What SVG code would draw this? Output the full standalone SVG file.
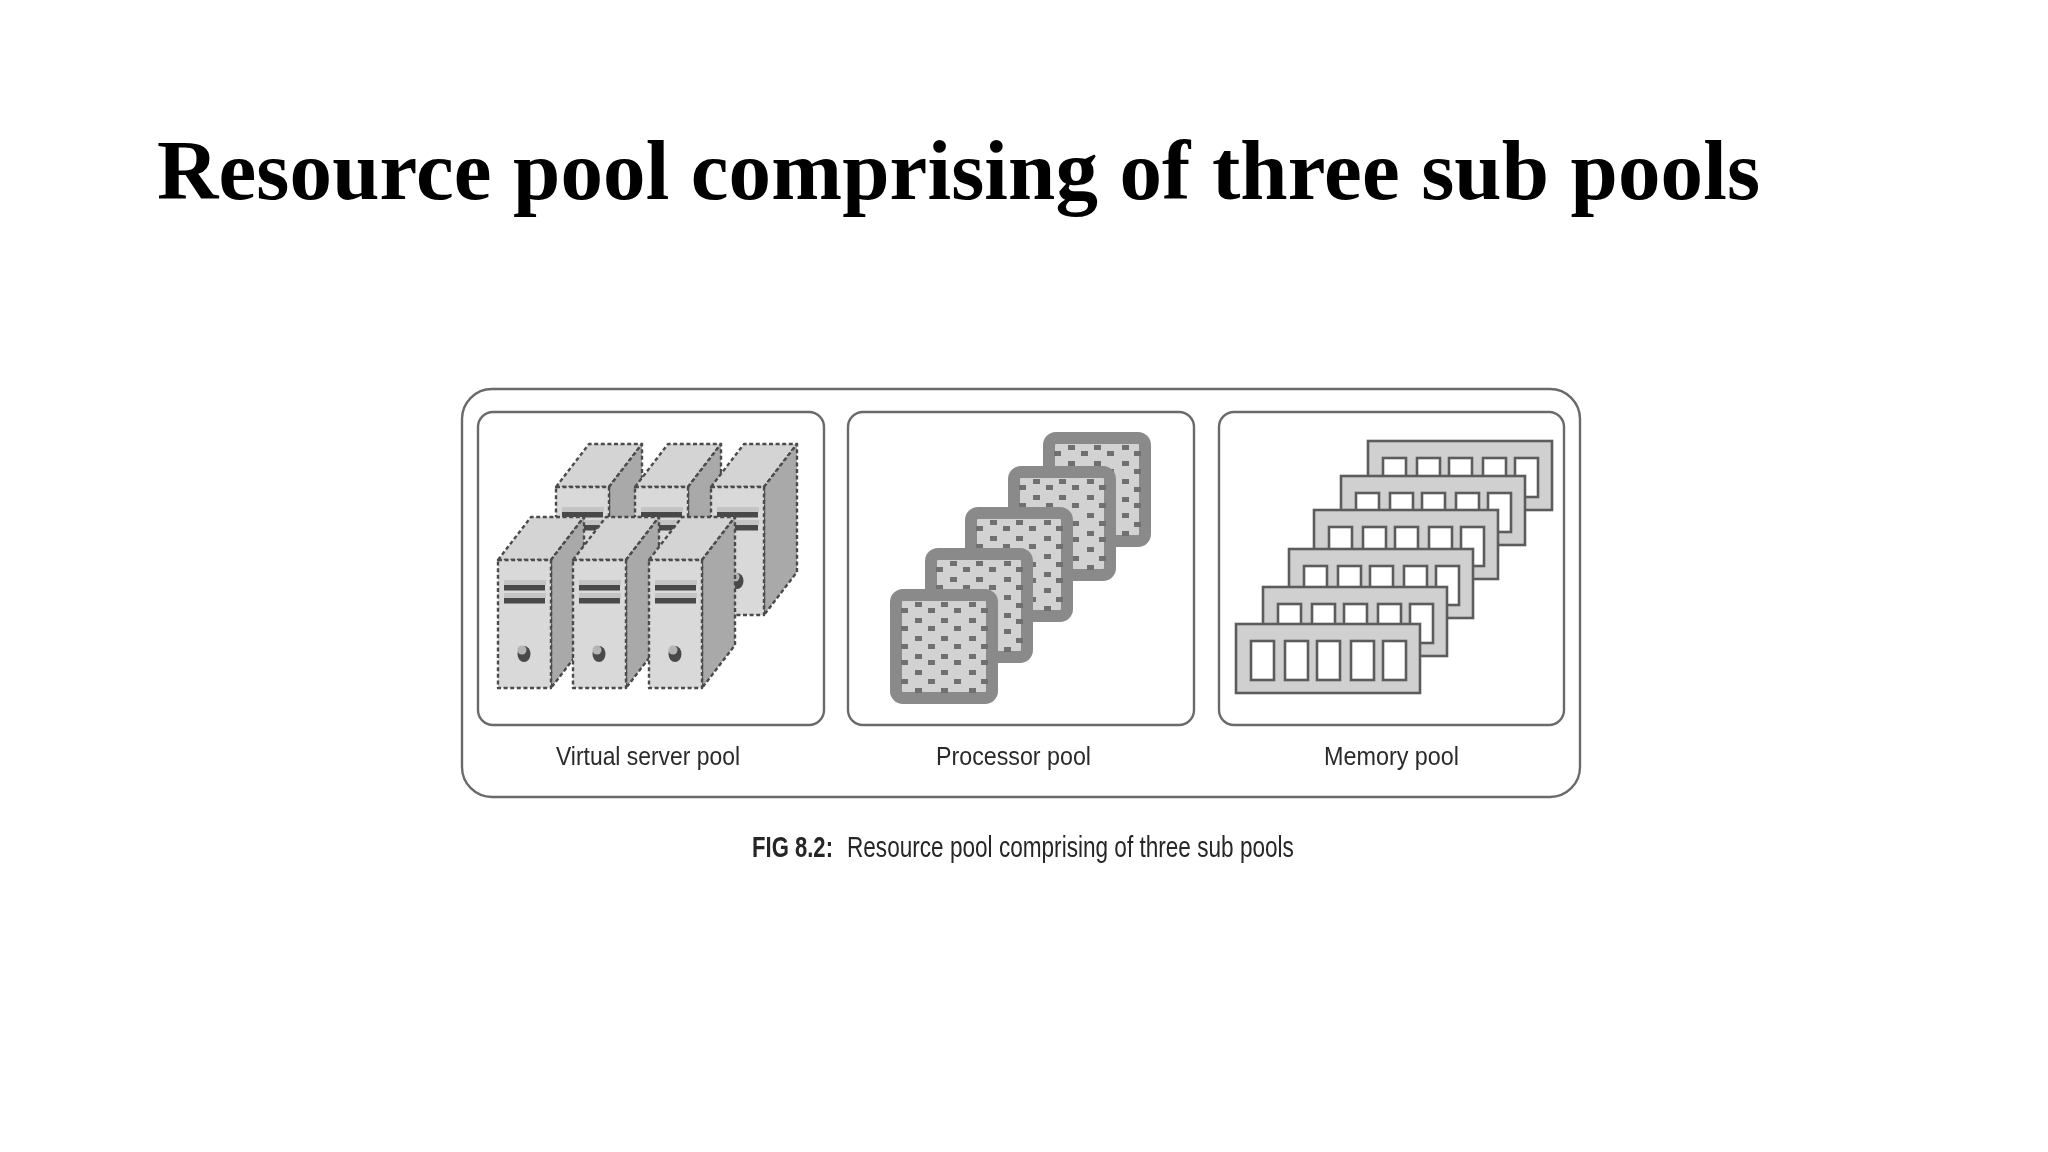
<svg xmlns="http://www.w3.org/2000/svg" xmlns:xlink="http://www.w3.org/1999/xlink" width="2048" height="1152" viewBox="0 0 2048 1152">
<style>
.frame{fill:#fff;stroke:#6a6a6a;stroke-width:2.4}
.lbl{font-family:"Liberation Sans",Arial,sans-serif;font-size:26px;fill:#2a2a2a}
.cap{font-family:"Liberation Sans",Arial,sans-serif;font-size:29px;fill:#262626}
.title{font-family:"Liberation Serif","Times New Roman",serif;font-weight:700;font-size:85px;fill:#000}
.d{stroke:#4c4c4c;stroke-width:2.4;stroke-dasharray:4 2.6;stroke-linejoin:round}
.bar{fill:#484848}.barl{fill:#c4c4c4}
.dot{fill:#6f6f6f}
.chip{fill:#d2d2d2;stroke:#8a8a8a;stroke-width:12;stroke-linejoin:round}
.mem{fill:#d0d0d0;stroke:#5c5c5c;stroke-width:2.6}
.slot{fill:#fff;stroke:#5c5c5c;stroke-width:2.6}
</style>
<defs>
<filter id="soft" x="-2%" y="-2%" width="104%" height="104%"><feGaussianBlur stdDeviation="0.6"/></filter>
<g id="server">
<path class="d" d="M0 0L33 -43H86L53 0Z" fill="#d4d4d4"/>
<path class="d" d="M53 0L86 -43V85L53 128Z" fill="#a9a9a9"/>
<rect class="d" x="0" y="0" width="53" height="128" fill="#d9d9d9"/>
<rect class="barl" x="6" y="20" width="42" height="5"/>
<rect class="bar" x="6" y="25" width="41" height="5.5"/>
<rect class="barl" x="6" y="33" width="42" height="5"/>
<rect class="bar" x="6" y="38" width="41" height="5.5"/>
<ellipse cx="26" cy="94" rx="6.5" ry="8" fill="#4a4a4a"/>
<ellipse cx="24" cy="90" rx="4.5" ry="4.5" fill="#b5b5b5"/>
</g>
<g id="chip">
<rect class="chip" x="6" y="6" width="96" height="103" rx="7"/>
<g class="dot" transform="translate(12,13)">
<path d="M13 0h7v5h-7zM39 0h7v5h-7zM67 0h7v5h-7zM13 16h7v5h-7zM39 16h7v5h-7zM67 16h7v5h-7zM13 34h7v5h-7zM39 34h7v5h-7zM67 34h7v5h-7zM13 52h7v5h-7zM39 52h7v5h-7zM67 52h7v5h-7zM13 68h7v5h-7zM39 68h7v5h-7zM67 68h7v5h-7zM13 86h7v5h-7zM39 86h7v5h-7zM67 86h7v5h-7z"/>
<path d="M-1 6h7v5h-7zM26 6h7v5h-7zM52 6h7v5h-7zM79 6h7v5h-7zM-1 24h7v5h-7zM26 24h7v5h-7zM52 24h7v5h-7zM79 24h7v5h-7zM-1 42h7v5h-7zM26 42h7v5h-7zM52 42h7v5h-7zM79 42h7v5h-7zM-1 58h7v5h-7zM26 58h7v5h-7zM52 58h7v5h-7zM79 58h7v5h-7zM-1 77h7v5h-7zM26 77h7v5h-7zM52 77h7v5h-7zM79 77h7v5h-7z"/>
</g>
</g>
<g id="stick">
<rect class="mem" x="0" y="0" width="184" height="69"/>
<rect class="slot" x="15" y="17" width="23" height="39"/>
<rect class="slot" x="49" y="17" width="23" height="39"/>
<rect class="slot" x="81" y="17" width="23" height="39"/>
<rect class="slot" x="115" y="17" width="23" height="39"/>
<rect class="slot" x="147" y="17" width="23" height="39"/>
</g>
</defs>
<rect width="2048" height="1152" fill="#fff"/>
<text class="title" id="title" x="157" y="199" textLength="1603" lengthAdjust="spacing">Resource pool comprising of three sub pools</text>
<g id="figure" filter="url(#soft)">
<rect id="resource-pool" class="frame" x="462" y="389" width="1118" height="408" rx="30"/>
<g id="virtual-server-pool">
<rect class="frame" x="478" y="412" width="346" height="313" rx="15"/>
<use xlink:href="#server" href="#server" x="556" y="487"/>
<use xlink:href="#server" href="#server" x="635" y="487"/>
<use xlink:href="#server" href="#server" x="711" y="487"/>
<use xlink:href="#server" href="#server" x="498" y="560"/>
<use xlink:href="#server" href="#server" x="573" y="560"/>
<use xlink:href="#server" href="#server" x="649" y="560"/>
<text class="lbl" x="556" y="765" textLength="184" lengthAdjust="spacingAndGlyphs">Virtual server pool</text>
</g>
<g id="processor-pool">
<rect class="frame" x="848" y="412" width="346" height="313" rx="15"/>
<use xlink:href="#chip" href="#chip" x="1043" y="432"/>
<use xlink:href="#chip" href="#chip" x="1008" y="466"/>
<use xlink:href="#chip" href="#chip" x="965" y="507"/>
<use xlink:href="#chip" href="#chip" x="925" y="548"/>
<use xlink:href="#chip" href="#chip" x="890" y="589"/>
<text class="lbl" x="936" y="765" textLength="155" lengthAdjust="spacingAndGlyphs">Processor pool</text>
</g>
<g id="memory-pool">
<rect class="frame" x="1219" y="412" width="345" height="313" rx="15"/>
<use xlink:href="#stick" href="#stick" x="1368" y="441"/>
<use xlink:href="#stick" href="#stick" x="1341" y="476"/>
<use xlink:href="#stick" href="#stick" x="1314" y="510"/>
<use xlink:href="#stick" href="#stick" x="1289" y="549"/>
<use xlink:href="#stick" href="#stick" x="1263" y="587"/>
<use xlink:href="#stick" href="#stick" x="1236" y="624"/>
<text class="lbl" x="1324" y="765" textLength="135" lengthAdjust="spacingAndGlyphs">Memory pool</text>
</g>
<text class="cap" id="caption-no" transform="translate(752,857) scale(.76,1)" font-weight="700" textLength="106.6" lengthAdjust="spacingAndGlyphs">FIG 8.2:</text>
<text class="cap" id="caption" transform="translate(847,857) scale(.76,1)" textLength="588" lengthAdjust="spacingAndGlyphs">Resource pool comprising of three sub pools</text>
</g>
</svg>
